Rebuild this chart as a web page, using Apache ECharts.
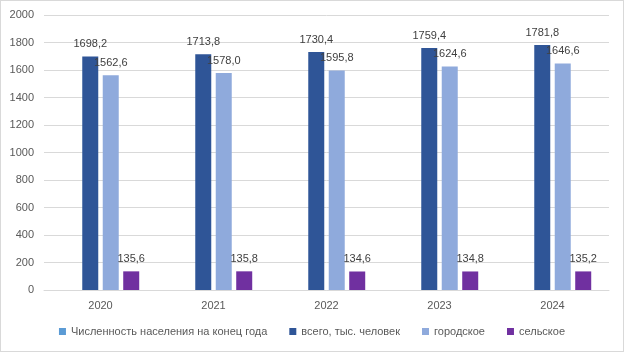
<!DOCTYPE html>
<html>
<head>
<meta charset="utf-8">
<script src="https://cdn.jsdelivr.net/npm/echarts@6/dist/echarts.min.js"></script>
<style>
  html, body { margin: 0; padding: 0; background: #fff; }
  #chart { width: 622px; height: 350px; border: 1px solid #d9d9d9; }
</style>
</head>
<body>
<div id="chart"></div>
<script>
const years = ['2020', '2021', '2022', '2023', '2024'];
const headerName = 'Численность населения на конец года';
const totalName = 'всего, тыс. человек';
const urbanName = 'городское';
const ruralName = 'сельское';
const headerValues = [null, null, null, null, null];
const totalValues = [1698.2, 1713.8, 1730.4, 1759.4, 1781.8];
const urbanValues = [1562.6, 1578.0, 1595.8, 1624.6, 1646.6];
const ruralValues = [135.6, 135.8, 134.6, 134.8, 135.2];

const chart = echarts.init(document.getElementById('chart'));

const FONT = 'Liberation Sans';

// запятая как десятичный разделитель
const fmt = p => p.value == null ? '' : p.value.toFixed(1).replace('.', ',');

function barSeries(name, data, color) {
  return {
    name: name,
    type: 'bar',
    data: data,
    barWidth: 16,
    barGap: '28%',
    itemStyle: { color: color },
    label: {
      show: true,
      position: 'top',
      distance: 7,
      color: '#404040',
      fontSize: 11,
      fontFamily: FONT,
      formatter: fmt
    }
  };
}

const option = {
  animation: false,
  textStyle: { fontFamily: FONT },
  grid: { left: 43, right: 14, top: 14, bottom: 61 },
  legend: {
    bottom: 9,
    left: 'center',
    itemWidth: 7,
    itemHeight: 7,
    itemGap: 22,
    icon: 'rect',
    textStyle: { color: '#595959', fontSize: 11, fontFamily: FONT },
    data: [headerName, totalName, urbanName, ruralName]
  },
  xAxis: {
    type: 'category',
    data: years,
    axisLine: { lineStyle: { color: '#d9d9d9' } },
    axisTick: { show: false },
    axisLabel: { color: '#595959', fontSize: 11, margin: 10 }
  },
  yAxis: {
    type: 'value',
    min: 0,
    max: 2000,
    interval: 200,
    axisLine: { show: false },
    axisTick: { show: false },
    axisLabel: { color: '#595959', fontSize: 11, margin: 10, formatter: v => String(v) },
    splitLine: { lineStyle: { color: '#d9d9d9' } }
  },
  series: [
    barSeries(headerName, headerValues, '#5b9bd5'),
    barSeries(totalName, totalValues, '#2f5597'),
    barSeries(urbanName, urbanValues, '#8faadc'),
    barSeries(ruralName, ruralValues, '#7030a0')
  ]
};

chart.setOption(option);
</script>
</body>
</html>
